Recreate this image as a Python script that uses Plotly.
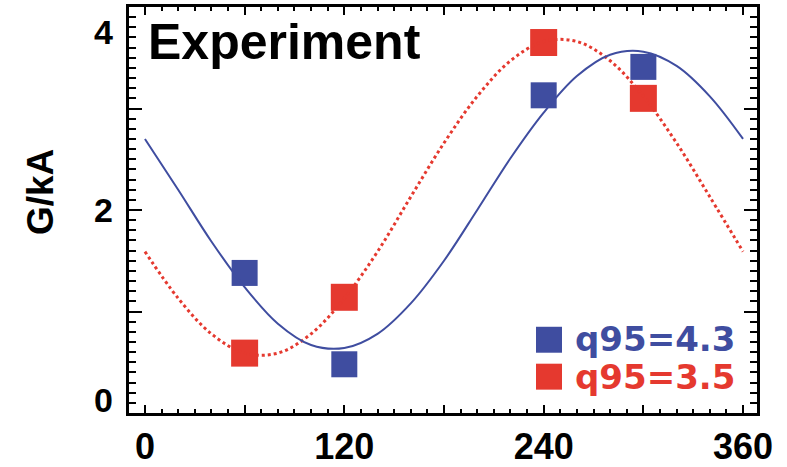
import plotly.graph_objects as go

# ---- data ----
phase_pts = [60, 120, 240, 300]
g_q43 = [1.38, 0.48, 3.13, 3.41]
g_q35 = [0.59, 1.14, 3.65, 3.10]

fit_phase = [0, 20, 40, 60, 80, 100, 120, 140, 160, 180, 200, 220, 240, 260, 280, 300, 320, 340, 360]
fit_q43 = [2.70, 2.20, 1.69, 1.24, 0.88, 0.67, 0.64, 0.78, 1.08, 1.50, 2.00, 2.51, 2.96, 3.32, 3.53, 3.56, 3.42, 3.12, 2.70]
fit_q35 = [1.59, 1.13, 0.78, 0.59, 0.59, 0.78, 1.13, 1.59, 2.13, 2.66, 3.12, 3.47, 3.66, 3.66, 3.47, 3.12, 2.66, 2.13, 1.59]

x_label_vals = [0, 120, 240, 360]
x_label_text = ["0", "120", "240", "360"]
y_tick_vals = [0, 2, 4]
y_tick_text = ["0", "2", "4"]
legend_names = ["q95=4.3", "q95=3.5"]
panel_label = "Experiment"
y_title = "G/kA"

BLUE = "#3F4DA0"
RED = "#E5392F"

W, H = 787, 467
X0, X1, Y0, Y1 = 129, 757, 6.6, 413.4
XR = [-9.6, 368.4]
YR = [0, 4]

# tick positions (every 10 deg / 0.1 unit), labels only at x_label_vals
x_minor_vals = list(range(0, 361, 10))
x_minor_text = [x_label_text[x_label_vals.index(v)] if v in x_label_vals else "" for v in x_minor_vals]
y_minor_vals = [i / 10 for i in range(0, 41)]


def px(x):
    return (x - X0) / (X1 - X0)


def py(y):
    return (Y1 - y) / (Y1 - Y0)


fig = go.Figure()
fig.add_trace(go.Scatter(x=fit_phase, y=fit_q35, mode="lines", xaxis="x2", yaxis="y2",
                         line=dict(color=RED, width=3, dash="dot", shape="spline"), showlegend=False))
fig.add_trace(go.Scatter(x=fit_phase, y=fit_q43, mode="lines", xaxis="x2", yaxis="y2",
                         line=dict(color=BLUE, width=2, shape="spline"), showlegend=False))
fig.add_trace(go.Scatter(x=phase_pts, y=g_q43, mode="markers",
                         marker=dict(symbol="square", size=26, color=BLUE, line=dict(width=0)),
                         name=legend_names[0], showlegend=False))
fig.add_trace(go.Scatter(x=phase_pts, y=g_q35, mode="markers",
                         marker=dict(symbol="square", size=27, color=RED, line=dict(width=0)),
                         name=legend_names[1], showlegend=False))

tick_font = dict(family="Liberation Sans", size=36, color="black", weight="bold")
common = dict(showgrid=False, zeroline=False, automargin=False, showline=True,
              linecolor="black", linewidth=2.5, ticks="inside", tickwidth=2, tickcolor="black")

fig.update_layout(
    xaxis=dict(range=XR, mirror="ticks", tickmode="array", tickvals=x_minor_vals, ticktext=x_minor_text,
               ticklen=4, tickfont=tick_font, **common),
    xaxis2=dict(range=XR, overlaying="x", anchor="y", side="bottom", mirror="ticks",
                tickmode="array", tickvals=x_minor_vals[::6], ticklen=8, showticklabels=False, **common),
    yaxis=dict(range=YR, mirror="ticks", tickmode="array", tickvals=y_minor_vals, ticklen=7,
               showticklabels=False, **common),
    yaxis2=dict(range=YR, overlaying="y", anchor="x", side="left", mirror="ticks",
                tickmode="array", tickvals=y_minor_vals[::10], ticklen=13, showticklabels=False, **common),
)

annotations = []
anchors = {0: ("bottom", -8), 2: ("middle", 0), 4: ("top", -4)}
for v, t in zip(y_tick_vals, y_tick_text):
    ya, ys = anchors[v]
    annotations.append(dict(x=px(115), y=v, xref="paper", yref="y", text=t, showarrow=False,
                            xanchor="right", yanchor=ya, yshift=ys,
                            font=dict(family="Liberation Sans", size=34, color="black", weight="bold")))
annotations.append(dict(x=px(40), y=py(192), xref="paper", yref="paper", text=y_title, textangle=-90, showarrow=False,
                        xanchor="center", yanchor="middle",
                        font=dict(family="Liberation Sans", size=37, color="black", weight="bold")))
annotations.append(dict(x=px(146), y=py(42), xref="paper", yref="paper", text=panel_label, showarrow=False,
                        xanchor="left", yanchor="middle",
                        font=dict(family="Liberation Sans", size=50, color="black", weight="bold")))
for name, col, yc in [(legend_names[0], BLUE, 339), (legend_names[1], RED, 377)]:
    annotations.append(dict(x=px(573), y=py(yc), xref="paper", yref="paper", text=name, showarrow=False,
                            xanchor="left", yanchor="middle",
                            font=dict(family="DejaVu Sans", size=34, color=col, weight="bold")))

shapes = []
for col, yc in [(BLUE, 340), (RED, 377)]:
    shapes.append(dict(type="rect", xref="paper", yref="paper", x0=px(536), x1=px(562), y0=py(yc + 13), y1=py(yc - 13),
                       fillcolor=col, line=dict(width=0)))

fig.update_layout(
    width=W, height=H, margin=dict(l=X0, r=W - X1, t=Y0, b=H - Y1, pad=0),
    paper_bgcolor="white", plot_bgcolor="white",
    annotations=annotations, shapes=shapes, showlegend=False,
)

fig.write_html("out.html")
